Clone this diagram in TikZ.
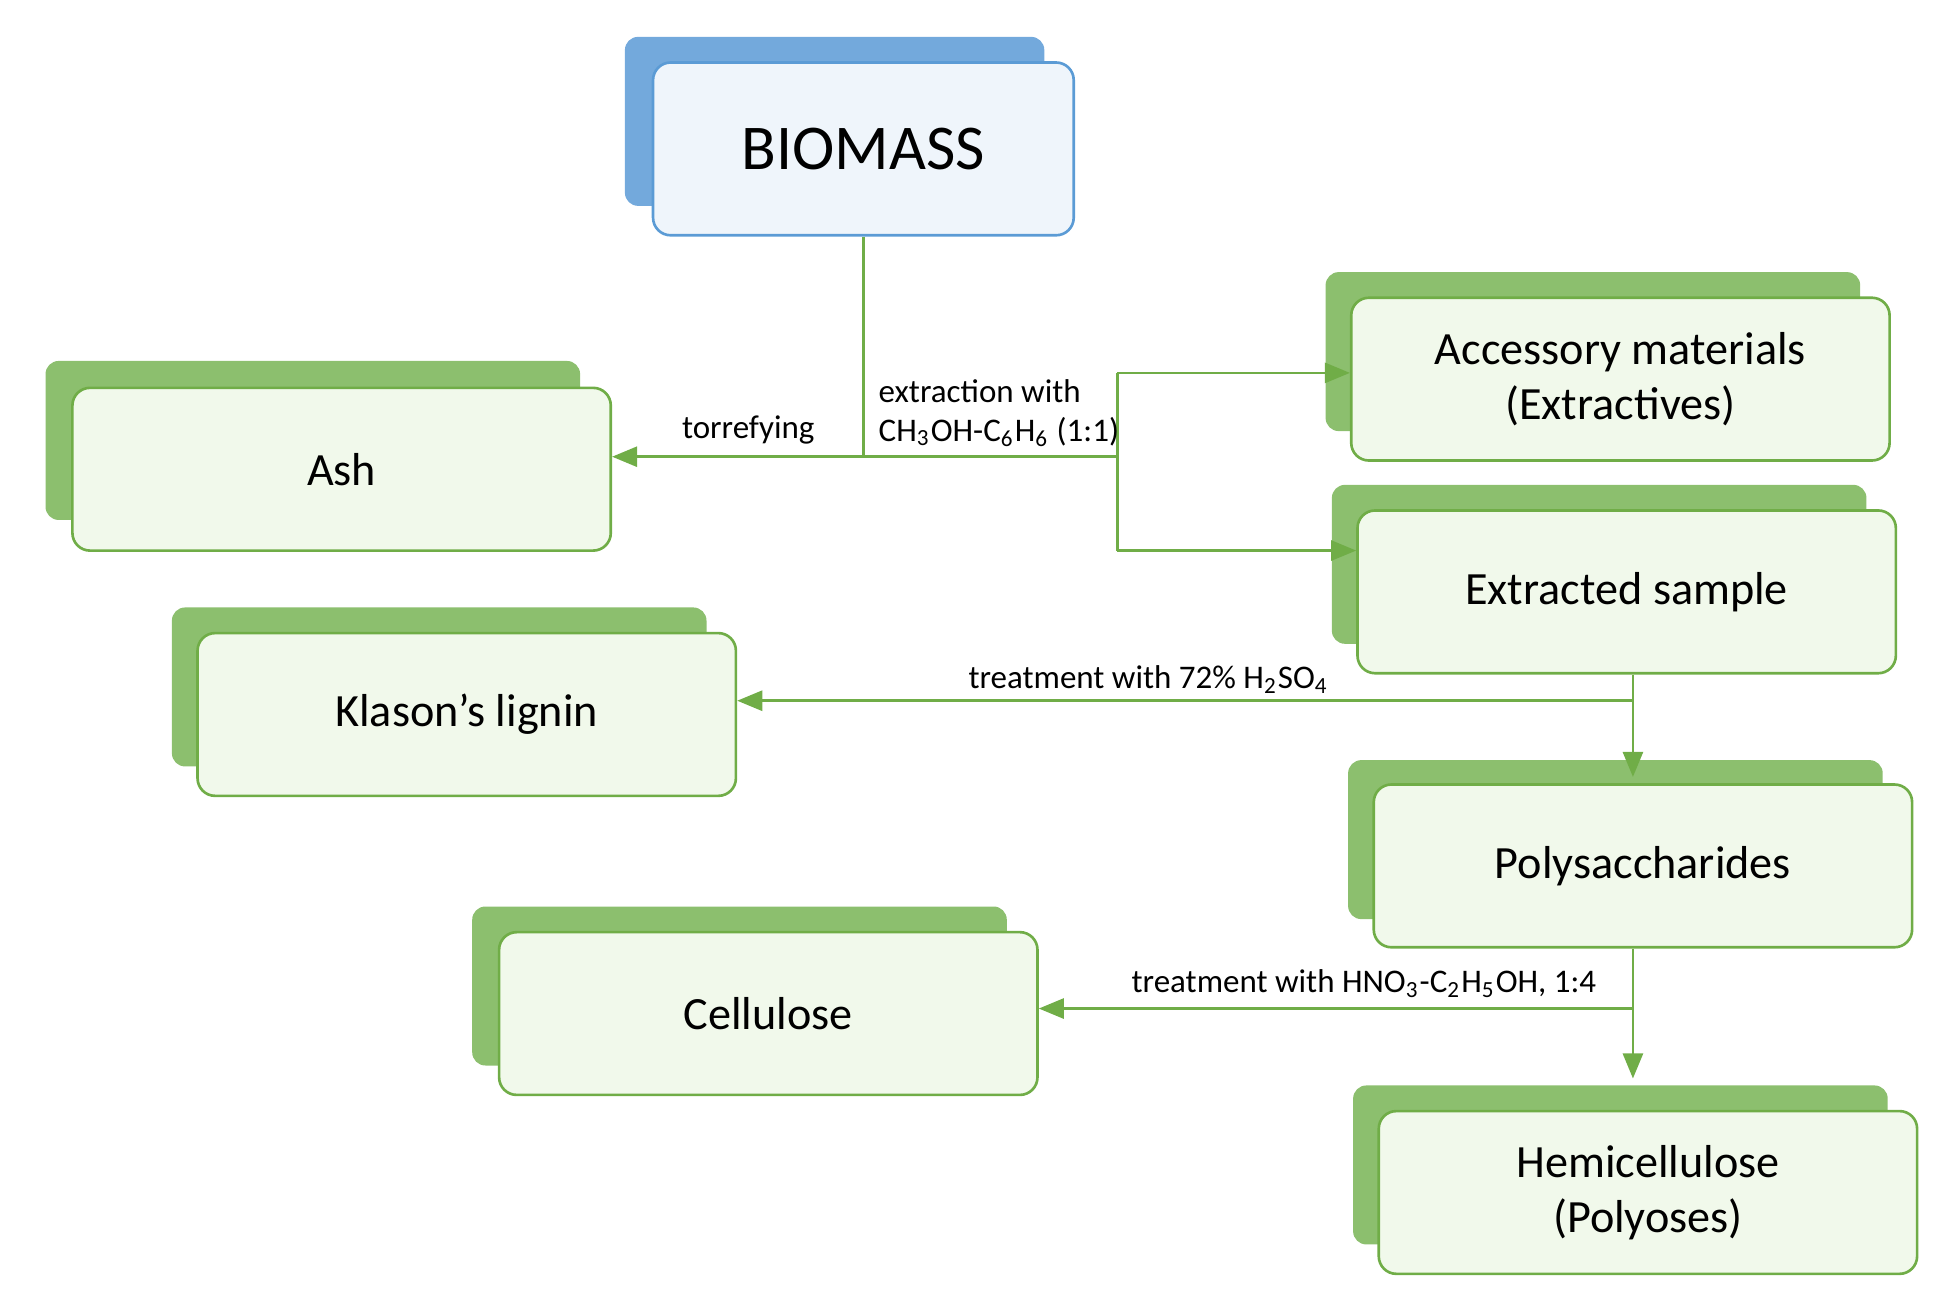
\documentclass[tikz,border=0pt]{standalone}
\usepackage{fontspec}
\setmainfont{Carlito}
\usetikzlibrary{arrows.meta}
\definecolor{leaf}{HTML}{70AD47}
\definecolor{leafback}{HTML}{8CBF6E}
\definecolor{sky}{HTML}{5B9BD5}
\definecolor{skyback}{HTML}{73A9DC}
\tikzset{
  back/.style={fill=leafback, rounded corners=3pt, minimum width=4.27cm, minimum height=1.27cm},
  front/.style={draw=leaf, line width=0.6pt, fill=white, rounded corners=4pt, minimum width=4.3cm, minimum height=1.3cm, align=center, font=\fontsize{10.5}{12.5}\selectfont, path picture={\fill[green!40!olive!8] ([shift={(0.03,0.2)}]path picture bounding box.south west) rectangle ([shift={(-0.25,-0.03)}]path picture bounding box.north east);}},
  link/.style={draw=leaf, line width=0.6pt, -{Triangle[length=2mm,width=1.6mm]}},
  plain/.style={draw=leaf, line width=0.6pt},
  note/.style={font=\fontsize{7.5}{8.5}\selectfont, inner sep=1pt}
}
\begin{document}
\begin{tikzpicture}[x=0.01cm, y=-0.01cm]
\useasboundingbox (0,0) rectangle (1560,1040);
% biomass
\node [back, fill=skyback, minimum width=3.35cm, minimum height=1.35cm] at (667,97) {};
\node [front, draw=sky, minimum width=3.36cm, minimum height=1.38cm, font=\fontsize{14.5}{17}\selectfont, path picture={\fill[sky!10] ([shift={(0.03,0.2)}]path picture bounding box.south west) rectangle ([shift={(-0.25,-0.03)}]path picture bounding box.north east);}] (biomass) at (690,119) {BIOMASS};
% boxes
\node [back] at (250,352) {};
\node [front] (ash) at (273,375) {Ash};
\node [back] at (1273,281) {};
\node [front] (accessory) at (1295,303) {Accessory materials\\(Extractives)};
\node [back] at (1278,451) {};
\node [front] (extracted) at (1300,473) {Extracted sample};
\node [back] at (351,549) {};
\node [front] (klason) at (373,571) {Klason's lignin};
\node [back] at (1291,671) {};
\node [front] (poly) at (1313,692) {Polysaccharides};
\node [back] at (591,788) {};
\node [front] (cellulose) at (614,810) {Cellulose};
\node [back] at (1295,931) {};
\node [front] (hemi) at (1317,953) {Hemicellulose\\(Polyoses)};
% junctions
\coordinate (j1) at (690,365);
\coordinate (j2) at (893,365);
\coordinate (j2a) at (893,298);
\coordinate (j2b) at (893,440);
\coordinate (j3) at (1305,560);
\coordinate (j4) at (1305,806);
% connectors
\draw [plain] (biomass.south) -- (j1);
\draw [link] (j2) -- (j1) -- (ash.east |- j1);
\draw [plain] (j2a) -- (j2b);
\draw [link] (j2a) -- (accessory.west |- j2a);
\draw [link] (j2b) -- (extracted.west |- j2b);
\draw [link, shorten >=0.05cm] (extracted.south -| j3) -- (poly.north -| j3);
\draw [link] (j3) -- (klason.east |- j3);
\draw [link, shorten >=0.25cm] (poly.south -| j4) -- (hemi.north -| j4);
\draw [link] (j4) -- (cellulose.east |- j4);
% labels
\node [note] (torr) at (598,344) {torrefying};
\node [note, anchor=west] (ext1) at (698,313) {extraction with};
\node [note, anchor=west] (ext2) at (698,345) {CH\textsubscript{3}OH-C\textsubscript{6}H\textsubscript{6} (1:1)};
\node [note] (sulf) at (918,543) {treatment with 72\% H\textsubscript{2}SO\textsubscript{4}};
\node [note] (nitr) at (1090,786) {treatment with HNO\textsubscript{3}-C\textsubscript{2}H\textsubscript{5}OH, 1:4};
\end{tikzpicture}
\end{document}
